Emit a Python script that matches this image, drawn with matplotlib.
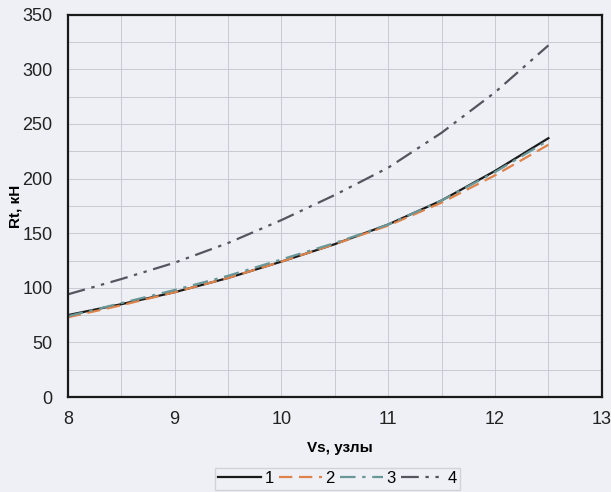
import numpy as np
import matplotlib.pyplot as plt

plt.rcParams['font.family'] = ['Liberation Sans', 'DejaVu Sans']

# speed, knots
vs = [8, 8.5, 9, 9.5, 10, 10.5, 11, 11.5, 12, 12.5]
# resistance Rt, kN
rt1 = [75, 85, 96, 109, 124, 140, 158, 180, 207, 237]
rt2 = [73, 84, 96, 109, 124, 140, 157, 178, 203, 231]
rt3 = [74, 86, 98, 111, 126, 141, 158, 180, 206, 235]
rt4 = [94, 108, 123, 141, 162, 185, 210, 242, 279, 322]
labels = ['1', '2', '3', '4']

bg = '#eef0f5'
fig = plt.figure(figsize=(6.11, 4.92), dpi=100, facecolor=bg)
ax = fig.add_axes([0.111, 0.193, 0.874, 0.777], facecolor=bg)

ax.plot(vs, rt1, color='#1a1a1a', lw=1.6, ls='-', label=labels[0])
ax.plot(vs, rt2, color='#e0834a', lw=1.6, ls=(0, (6, 3)), label=labels[1])
ax.plot(vs, rt3, color='#6a9898', lw=1.6, ls=(0, (7, 3, 1.5, 3)), label=labels[2])
ax.plot(vs, rt4, color='#55555f', lw=1.6, ls=(0, (8, 3, 1.5, 3, 1.5, 3)), label=labels[3])

ax.set_xlim(8, 13)
ax.set_ylim(0, 350)
ax.set_xticks(np.arange(8, 14, 1))
ax.set_xticks(np.arange(8, 13, 0.5), minor=True)
ax.set_yticks(np.arange(0, 351, 50))
ax.set_yticks(np.arange(0, 350, 25), minor=True)
ax.grid(True, which='both', color='#c6cad2', lw=0.7)
ax.tick_params(which='both', length=0, labelsize=13, colors='#222222')
ax.tick_params(axis='x', pad=10)
ax.tick_params(axis='y', pad=11)
for s in ax.spines.values():
    s.set_linewidth(1.6)
    s.set_color('#1a1a1a')

ax.set_xlabel('Vs, узлы', fontsize=11, fontweight='bold')
ax.set_ylabel('Rt, кН', fontsize=11, fontweight='bold')
ax.xaxis.set_label_coords(0.51, -0.115)
ax.yaxis.set_label_coords(-0.085, 0.5)

fig.legend(loc='center', bbox_to_anchor=(0.552, 0.027), ncol=4, frameon=True,
           fontsize=12, handlelength=2.6, columnspacing=0.3, handletextpad=0.2,
           facecolor=bg, edgecolor='#c8ccd4', fancybox=False, borderpad=0.2)

fig.savefig('out.png', dpi=100, facecolor=bg)
